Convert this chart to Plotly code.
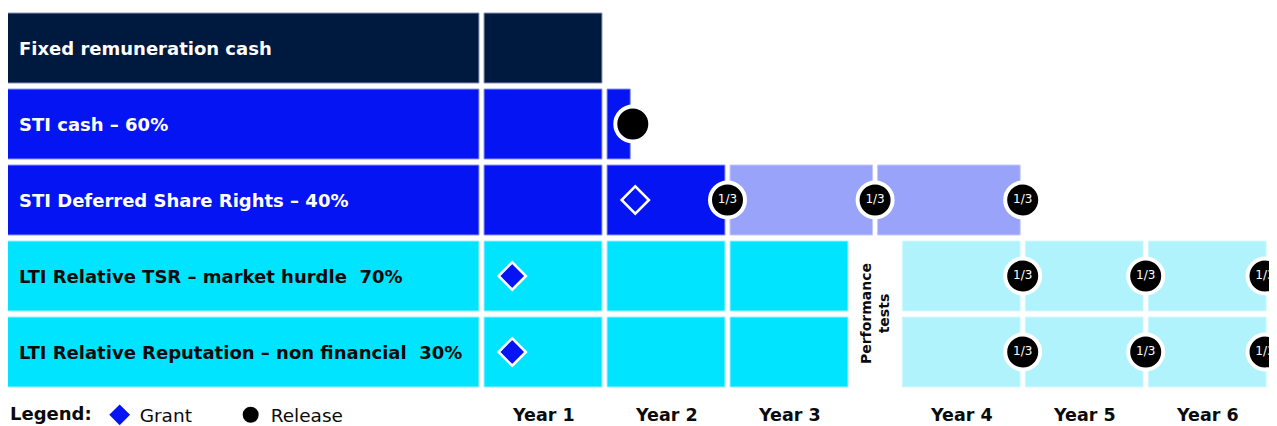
import plotly.graph_objects as go

# ---------------- data ----------------
rows = [
    "Fixed remuneration cash",
    "STI cash – 60%",
    "STI Deferred Share Rights – 40%",
    "LTI Relative TSR – market hurdle\u00a0 70%",
    "LTI Relative Reputation – non financial\u00a0 30%",
]
year_labels = ["Year 1", "Year 2", "Year 3", "Year 4", "Year 5", "Year 6"]
# timeline in years; a 0.4-year performance-test window sits between Year 3 and Year 4
year_start = [0, 1, 2, 3.4, 4.4, 5.4]
year_end = [1, 2, 3, 4.4, 5.4, 6.4]
label_start, label_end = -3.88, 0.0
perf_test_mid = 3.2

# segments: (row index, start, end, kind)
segments = [
    (0, label_start, label_end, "fixed"), (0, 0, 1, "fixed"),
    (1, label_start, label_end, "sti"), (1, 0, 1, "sti"), (1, 1, 1.23, "sti"),
    (2, label_start, label_end, "sti"), (2, 0, 1, "sti"), (2, 1, 2, "sti"),
    (2, 2, 3.2, "deferred"), (2, 3.2, 4.4, "deferred"),
    (3, label_start, label_end, "lti"), (3, 0, 1, "lti"), (3, 1, 2, "lti"), (3, 2, 3, "lti"),
    (3, 3.4, 4.4, "lti_vest"), (3, 4.4, 5.4, "lti_vest"), (3, 5.4, 6.4, "lti_vest"),
    (4, label_start, label_end, "lti"), (4, 0, 1, "lti"), (4, 1, 2, "lti"), (4, 2, 3, "lti"),
    (4, 3.4, 4.4, "lti_vest"), (4, 4.4, 5.4, "lti_vest"), (4, 5.4, 6.4, "lti_vest"),
]
# grants: (row, time, hollow)
grant_rows = [2, 3, 4]
grant_times = [1.25, 0.25, 0.25]
grant_hollow = [True, False, False]
# releases
release_rows = [1, 2, 2, 2, 3, 3, 3, 4, 4, 4]
release_times = [1.23, 2, 3.2, 4.4, 4.4, 5.4, 6.37, 4.4, 5.4, 6.37]
release_text = ["", "1/3", "1/3", "1/3", "1/3", "1/3", "1/3", "1/3", "1/3", "1/3"]

# ---------------- styles ----------------
colors = {
    "fixed": "#00193F",
    "sti": "#0514F2",
    "deferred": "#98A3F9",
    "lti": "#00E4FF",
    "lti_vest": "#B0F3FD",
}
border = {
    "fixed": "#8A94B8",
    "sti": "#8E96F5",
    "deferred": "#C3C9FB",
    "lti": "#9CF2FF",
    "lti_vest": "#D6F9FE",
}
label_colors = ["white", "white", "white", "#0B0B0B", "#0B0B0B"]
FONT = "DejaVu Sans"
inset = 0.0205  # half gap between cells, in years
bar_w = 0.921

fig = go.Figure()

for kind in colors:
    segs = [s for s in segments if s[3] == kind]
    fig.add_trace(go.Bar(
        orientation="h",
        y=[s[0] for s in segs],
        base=[s[1] + inset for s in segs],
        x=[(s[2] - s[1]) - 2 * inset for s in segs],
        width=bar_w,
        marker=dict(color=colors[kind], line=dict(color=border[kind], width=1)),
        showlegend=False,
        hoverinfo="skip",
    ))

# grant markers
fig.add_trace(go.Scatter(
    x=[t for t, h in zip(grant_times, grant_hollow) if not h],
    y=[r for r, h in zip(grant_rows, grant_hollow) if not h],
    mode="markers",
    marker=dict(symbol="diamond", size=21, color="#0514F2", line=dict(color="white", width=2.5)),
    showlegend=False, hoverinfo="skip",
))
fig.add_trace(go.Scatter(
    x=[t for t, h in zip(grant_times, grant_hollow) if h],
    y=[r for r, h in zip(grant_rows, grant_hollow) if h],
    mode="markers",
    marker=dict(symbol="diamond-open", size=21, color="white", line=dict(color="white", width=2.5)),
    showlegend=False, hoverinfo="skip",
))
# release markers
fig.add_trace(go.Scatter(
    x=release_times, y=release_rows,
    mode="markers+text",
    text=release_text,
    textposition="middle center",
    textfont=dict(family=FONT, size=12, color="white"),
    marker=dict(symbol="circle", size=35, color="black", line=dict(color="white", width=4)),
    showlegend=False, hoverinfo="skip",
))

# legend entries
fig.add_trace(go.Scatter(
    x=[None], y=[None], mode="markers", name="Grant",
    marker=dict(symbol="diamond", size=16, color="#0514F2"),
))
fig.add_trace(go.Scatter(
    x=[None], y=[None], mode="markers", name="Release",
    marker=dict(symbol="circle", size=16, color="black"),
))

# row labels
for i, (txt, col) in enumerate(zip(rows, label_colors)):
    fig.add_annotation(
        x=label_start + 0.105, y=i, xref="x", yref="y",
        text=f"<b>{txt}</b>", showarrow=False, xanchor="left", yanchor="middle",
        font=dict(family=FONT, size=18, color=col),
    )

# year labels (below the plot area)
for ys, ye, lab in zip(year_start, year_end, year_labels):
    fig.add_annotation(
        x=(ys + ye) / 2, y=-0.0682, xref="x", yref="paper",
        text=f"<b>{lab}</b>", showarrow=False, xanchor="center", yanchor="middle",
        font=dict(family=FONT, size=17.5, color="#0B0B0B"),
    )

# performance tests
fig.add_annotation(
    x=perf_test_mid, y=3.5, xref="x", yref="y",
    text="<b>Performance<br>tests</b>", showarrow=False, textangle=-90,
    font=dict(family=FONT, size=14, color="#0B0B0B"),
)

fig.update_layout(
    width=1277, height=426, autosize=False,
    margin=dict(l=0, r=0, t=0, b=45),
    plot_bgcolor="white", paper_bgcolor="white",
    barmode="overlay",
    xaxis=dict(range=[-3.8496, 6.5325], visible=False, fixedrange=True),
    yaxis=dict(range=[4.4868, -0.5263], visible=False, fixedrange=True),
    showlegend=True,
    legend=dict(
        orientation="h", xref="container", yref="container",
        x=-0.0055, xanchor="left", y=0.044, yanchor="middle",
        title=dict(text="<b>Legend:</b>", side="left",
                   font=dict(family=FONT, size=18, color="#0B0B0B")),
        font=dict(family=FONT, size=18.5, color="#0B0B0B"),
        entrywidth=86, entrywidthmode="pixels",
        bgcolor="rgba(0,0,0,0)",
    ),
)

fig.write_html("out.html")
